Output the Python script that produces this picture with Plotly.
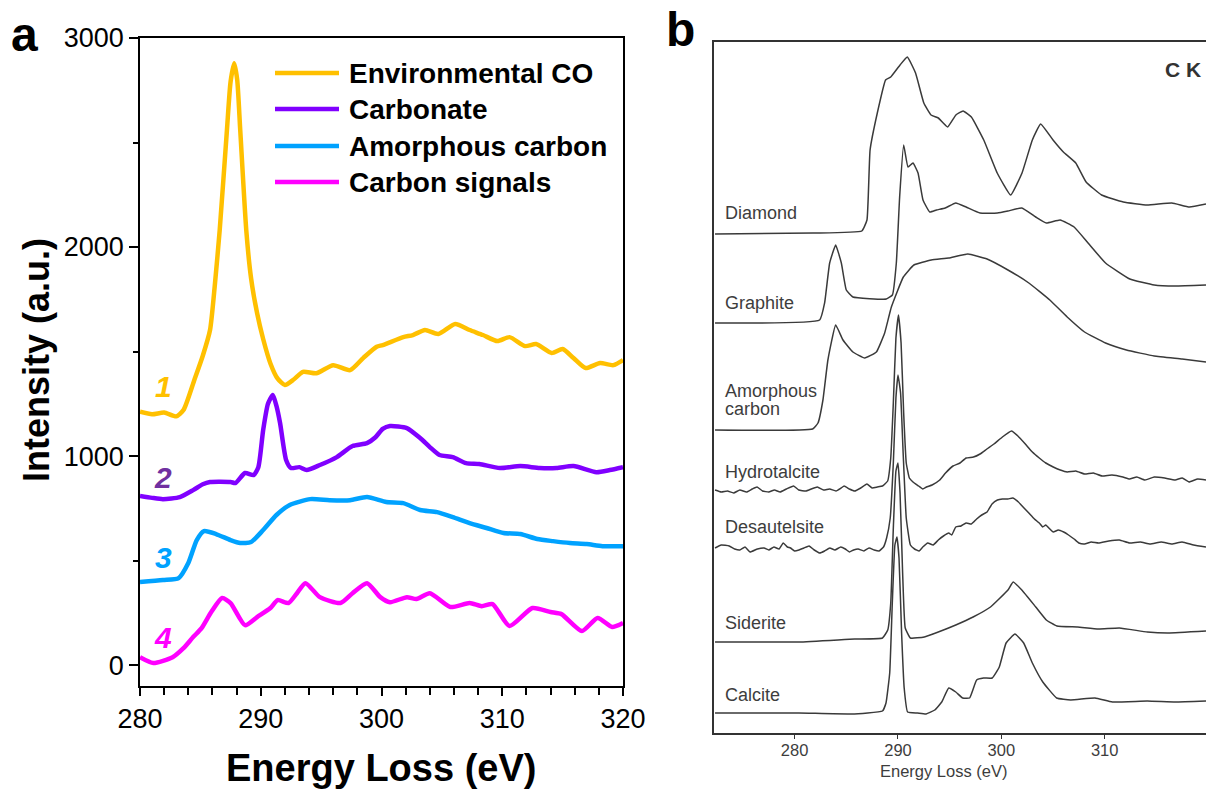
import plotly.graph_objects as go

W, H = 1206, 790

# ---------------- Panel a: C K-edge EELS spectra (offset) ----------------
energy_env = [280.0, 281.0, 282.0, 283.0, 283.6, 284.5, 285.2, 285.8, 286.2, 286.6, 287.2, 287.5,
              287.8, 288.05, 288.3, 288.8, 289.2, 289.7, 290.2, 290.8, 291.4, 292.0, 292.7, 293.5,
              294.6, 296.0, 297.4, 298.5, 299.6, 300.1, 301.8, 302.6, 303.6, 304.7, 306.1, 307.3,
              308.4, 309.6, 310.6, 311.9, 312.8, 314.1, 315.0, 315.9, 316.9, 318.1, 319.2, 320.0]
intensity_env = [1212, 1200, 1208, 1190, 1220, 1364, 1480, 1603, 1820, 2081, 2560, 2790,
                 2879, 2800, 2560, 2081, 1850, 1683, 1560, 1443, 1370, 1340, 1365, 1403,
                 1396, 1435, 1411, 1470, 1523, 1531, 1569, 1579, 1603, 1584, 1632, 1603,
                 1579, 1550, 1569, 1526, 1536, 1493, 1512, 1469, 1421, 1445, 1435, 1459]

energy_carb = [280.0, 281.0, 281.9, 283.3, 284.4, 285.2, 285.8, 287.5, 287.9, 288.7, 289.4, 289.8,
               290.2, 290.6, 291.0, 291.3, 291.6, 292.1, 292.5, 293.2, 293.8, 294.9, 296.3, 297.6,
               298.8, 299.5, 300.1, 300.7, 302.1, 303.2, 304.0, 304.8, 305.9, 307.0, 308.1, 309.8,
               311.5, 313.1, 314.5, 315.9, 317.8, 318.9, 320.0]
intensity_carb = [809, 800, 794, 804, 837, 865, 876, 876, 871, 919, 909, 947,
                  1124, 1250, 1292, 1240, 1158, 981, 943, 947, 933, 957, 995, 1048,
                  1062, 1090, 1130, 1144, 1134, 1086, 1043, 1005, 995, 966, 962, 943,
                  952, 943, 943, 952, 923, 933, 947]

energy_amc = [280.0, 281.9, 283.2, 284.0, 284.7, 285.3, 286.3, 287.5, 288.3, 289.2, 290.2, 291.3,
              292.4, 294.1, 295.7, 297.4, 298.8, 300.4, 301.8, 303.2, 304.6, 305.9, 307.3, 308.7,
              310.1, 311.5, 312.9, 314.2, 315.6, 317.0, 318.3, 320.0]
intensity_amc = [397, 407, 416, 488, 598, 641, 627, 598, 584, 589, 646, 718,
                 766, 794, 789, 789, 804, 780, 775, 742, 732, 708, 679, 656,
                 632, 627, 603, 593, 584, 579, 569, 569]

energy_sig = [280.0, 281.1, 282.7, 283.6, 284.4, 285.1, 285.9, 286.8, 287.5, 288.7, 289.7, 290.8,
              291.4, 292.3, 293.0, 293.7, 294.9, 296.6, 297.6, 298.8, 299.9, 300.7, 302.1, 302.9,
              304.0, 305.7, 307.3, 308.3, 309.2, 310.6, 312.5, 314.0, 314.9, 316.6, 317.9, 319.1,
              320.0]
intensity_sig = [38, 10, 38, 81, 134, 177, 254, 321, 297, 191, 230, 273,
                 311, 297, 344, 392, 325, 297, 344, 392, 325, 301, 325, 316,
                 344, 278, 297, 282, 292, 187, 273, 254, 244, 163, 225, 182,
                 201]

series_a = [
    ("Environmental CO", energy_env, intensity_env, "#FFC000"),
    ("Carbonate", energy_carb, intensity_carb, "#8000FF"),
    ("Amorphous carbon", energy_amc, intensity_amc, "#00A2FF"),
    ("Carbon signals", energy_sig, intensity_sig, "#FF00FF"),
]
curve_numbers = [("1", "#FFC000"), ("2", "#7030A0"), ("3", "#00A2FF"), ("4", "#FF00FF")]

# ---------------- Panel b: reference C K-edge spectra ----------------
e_diamond = [272.3, 281.8, 286.5, 287.0, 287.3, 288.0, 288.8, 289.3, 290.2, 290.9, 291.7, 292.5,
             293.2, 293.9, 294.8, 295.6, 296.3, 297.1, 298.3, 299.6, 300.9, 302.0, 303.0, 303.8,
             305.0, 306.0, 307.2, 308.2, 309.7, 311.8, 314.1, 316.5, 318.2, 319.8]
i_diamond = [499, 500, 502, 513, 583, 620, 653, 656, 668, 676, 660, 630,
             618, 615, 606, 618, 622, 616, 593, 560, 538, 560, 593, 609,
             593, 581, 570, 551, 538, 531, 528, 530, 526, 529]

e_graphite = [272.3, 282.42, 282.9, 283.39, 283.97, 284.52, 285.0, 285.64, 288.87, 289.46, 289.84,
              290.16, 290.55, 290.97, 291.45, 291.94, 292.42, 293.07, 293.72, 294.57, 295.59,
              296.59, 297.94, 299.62, 300.64, 301.98, 303.33, 304.35, 305.69, 307.04, 308.39,
              310.08, 312.43, 314.79, 316.82, 319.8]
i_graphite = [410, 413, 430, 470, 488, 470, 443, 436, 434, 438, 470,
              536, 588, 566, 570, 560, 533, 521, 523, 525, 530,
              526, 520, 520, 522, 525, 516, 510, 513, 506, 490,
              470, 454, 448, 447, 448]

e_amorph = [272.3, 281.74, 282.26, 282.74, 283.22, 283.97, 284.68, 285.64, 286.78, 287.91, 288.71,
            289.36, 290.52, 291.54, 293.22, 294.91, 296.76, 298.62, 300.64, 302.66, 304.69,
            306.37, 308.05, 310.08, 312.10, 314.79, 317.49, 319.8]
i_amorph = [303, 304, 310, 333, 373, 408, 393, 381, 375, 381, 400,
            426, 456, 468, 473, 475, 479, 474, 463, 450, 433,
            416, 401, 390, 383, 377, 374, 371]

e_hydro = [272.3, 272.9, 273.5, 274.1, 274.7, 275.35, 275.9, 276.37, 276.9, 277.5, 278.05, 278.6,
           279.2, 279.9, 280.4, 281.08, 281.6, 282.2, 282.8, 283.4, 284.0, 284.5, 284.79, 285.3,
           285.81, 286.4, 286.99, 287.5, 288.0, 288.5, 289.0, 289.3, 289.55, 289.8, 290.05, 290.3,
           290.55, 290.8, 291.1, 291.45, 292.0, 292.4, 292.75, 293.3, 294.04, 294.6, 295.32, 296.0,
           296.59, 297.3, 297.94, 298.6, 299.29, 300.1, 300.98, 301.6, 302.32, 303.0, 303.67, 304.3,
           305.02, 305.7, 306.37, 307.2, 308.05, 308.9, 309.74, 310.7, 311.76, 312.4, 313.11, 313.9,
           314.79, 315.8, 316.82, 317.5, 318.16, 319.0, 319.8]
i_hydro = [243, 241, 242, 240, 243, 241, 244, 246, 242, 241, 243, 241,
           244, 247, 243, 242, 244, 246, 243, 244, 242, 245, 247, 244,
           242, 245, 249, 245, 246, 247, 252, 275, 330, 395, 418, 390,
           320, 270, 255, 251, 247, 244, 246, 248, 253, 260, 267, 270,
           275, 276, 279, 284, 289, 296, 302, 297, 289, 281, 275, 270,
           266, 263, 261, 262, 259, 260, 257, 258, 256, 254, 256, 253,
           256, 255, 253, 255, 251, 254, 253]

e_desaut = [272.3, 272.9, 273.67, 274.2, 274.7, 275.2, 275.69, 276.4, 277.05, 277.5, 278.0, 278.5,
            278.9, 279.3, 279.6, 280.0, 280.42, 280.9, 281.4, 281.9, 282.44, 282.9, 283.4, 283.9,
            284.46, 284.9, 285.3, 285.7, 286.15, 286.7, 287.2, 287.7, 288.17, 288.6, 288.9, 289.25,
            289.55, 289.8, 290.0, 290.25, 290.5, 290.8, 291.2, 291.6, 292.04, 292.4, 292.88, 293.4,
            293.9, 294.4, 294.91, 295.2, 295.59, 296.1, 296.59, 297.1, 297.61, 298.1, 298.62, 299.1,
            299.62, 300.1, 300.64, 301.1, 301.65, 302.1, 302.66, 303.2, 303.67, 304.0, 304.3, 304.7,
            305.02, 305.5, 306.03, 306.5, 307.04, 307.5, 308.05, 308.7, 309.4, 310.4, 311.42, 312.4,
            313.45, 314.4, 315.47, 316.5, 317.49, 318.6, 319.8]
i_desaut = [185, 188, 187, 184, 183, 186, 181, 184, 185, 183, 186, 184,
            190, 186, 185, 182, 183, 185, 187, 183, 180, 182, 185, 183,
            186, 184, 181, 183, 184, 182, 185, 183, 182, 186, 195, 215,
            270, 335, 358, 340, 280, 215, 188, 184, 182, 186, 190, 188,
            193, 197, 200, 198, 206, 207, 210, 209, 214, 218, 221, 229,
            233, 234, 234, 235, 231, 226, 220, 214, 210, 206, 208, 204,
            201, 203, 201, 198, 194, 190, 189, 191, 190, 192, 193, 190,
            191, 189, 191, 189, 191, 188, 186]

e_siderite = [272.3, 280.42, 285.81, 288.5, 289.01, 289.3, 289.55, 289.8, 290.0, 290.2, 290.45,
              290.7, 291.2, 292.55, 293.9, 295.59, 297.27, 298.95, 300.64, 301.14, 301.98, 303.33,
              304.35, 305.37, 307.38, 309.4, 311.42, 314.12, 316.15, 319.8]
i_siderite = [91, 91, 94, 95, 103, 130, 205, 262, 270, 240, 160,
              105, 95, 96, 101, 108, 116, 126, 143, 151, 143, 126,
              113, 107, 106, 104, 105, 101, 100, 102]

e_calcite = [272.3, 280.42, 285.47, 288.5, 288.84, 289.2, 289.45, 289.7, 289.9, 290.1, 290.35, 290.6,
             290.93, 291.88, 292.72, 293.56, 294.23, 294.91, 295.59, 296.26, 296.93, 297.61, 298.28,
             299.12, 299.8, 300.46, 301.32, 302.16, 303.0, 304.01, 305.35, 306.71, 309.06, 310.75,
             314.12, 316.82, 319.8]
i_calcite = [20, 20, 19, 22, 30, 60, 130, 188, 196, 175, 100, 45,
             21, 20, 19, 23, 31, 45, 41, 35, 35, 53, 55,
             55, 66, 90, 99, 90, 70, 51, 35, 33, 35, 31,
             32, 31, 32]

series_b = [
    (e_diamond, i_diamond), (e_graphite, i_graphite), (e_amorph, i_amorph),
    (e_hydro, i_hydro), (e_desaut, i_desaut), (e_siderite, i_siderite), (e_calcite, i_calcite),
]
labels_b = [("Diamond", 213), ("Graphite", 303), ("Amorphous", 391), ("carbon", 409),
            ("Hydrotalcite", 472), ("Desautelsite", 527), ("Siderite", 623), ("Calcite", 695)]

FONT = "Liberation Sans, Arial, sans-serif"


def px(x):
    return x / W


def py(y):
    return 1 - y / H


fig = go.Figure()

for name, xs, ys, color in series_a:
    fig.add_trace(go.Scatter(x=xs, y=ys, mode="lines", name=name, showlegend=False,
                             line=dict(color=color, width=4.5, shape="spline", smoothing=0.6),
                             xaxis="x", yaxis="y"))

for xs, ys in series_b:
    fig.add_trace(go.Scatter(x=xs, y=ys, mode="lines", showlegend=False,
                             line=dict(color="#3a3a3a", width=1.5, shape="spline", smoothing=0.35),
                             xaxis="x2", yaxis="y2"))

annotations = []
shapes = []

# panel letters
annotations.append(dict(text="<b>a</b>", x=px(9), y=py(34), xref="paper", yref="paper",
                        xanchor="left", yanchor="middle", showarrow=False,
                        font=dict(family=FONT, size=48, color="black")))
annotations.append(dict(text="<b>b</b>", x=px(664), y=py(30), xref="paper", yref="paper",
                        xanchor="left", yanchor="middle", showarrow=False,
                        font=dict(family=FONT, size=48, color="black")))

# axis titles for panel a
annotations.append(dict(text="<b>Energy Loss (eV)</b>", x=px(381.5), y=py(768), xref="paper",
                        yref="paper", xanchor="center", yanchor="middle", showarrow=False,
                        font=dict(family=FONT, size=38, color="black")))
annotations.append(dict(text="<b>Intensity (a.u.)</b>", x=px(36), y=py(360), xref="paper",
                        yref="paper", xanchor="center", yanchor="middle", showarrow=False,
                        textangle=-90, font=dict(family=FONT, size=36, color="black")))

# legend for panel a
legend_rows = [73, 109, 146, 182]
for (name, _, _, color), yrow in zip(series_a, legend_rows):
    shapes.append(dict(type="line", xref="paper", yref="paper", x0=px(275), x1=px(339),
                       y0=py(yrow), y1=py(yrow), line=dict(color=color, width=4.5)))
    annotations.append(dict(text="<b>%s</b>" % name, x=px(347), y=py(yrow), xref="paper",
                            yref="paper", xanchor="left", yanchor="middle", showarrow=False,
                            font=dict(family=FONT, size=28, color="black")))

# curve numbers
for (num, color), ylab in zip(curve_numbers, [387, 477, 557, 637]):
    annotations.append(dict(text="<b><i>%s</i></b>" % num, x=px(163), y=py(ylab), xref="paper",
                            yref="paper", xanchor="center", yanchor="middle", showarrow=False,
                            font=dict(family=FONT, size=30, color=color)))

# panel b spectrum names
for text, ylab in labels_b:
    annotations.append(dict(text=text, x=px(723), y=py(ylab), xref="paper", yref="paper",
                            xanchor="left", yanchor="middle", showarrow=False,
                            font=dict(family=FONT, size=18, color="#3d3d3d")))
annotations.append(dict(text="<b>C K</b>", x=px(1203), y=py(69), xref="paper", yref="paper",
                        xanchor="right", yanchor="middle", showarrow=False,
                        font=dict(family=FONT, size=21, color="#333333")))
annotations.append(dict(text="Energy Loss (eV)", x=px(943), y=py(771), xref="paper",
                        yref="paper", xanchor="center", yanchor="middle", showarrow=False,
                        font=dict(family=FONT, size=16.5, color="#3d3d3d")))

fig.update_layout(
    width=W, height=H,
    margin=dict(l=0, r=0, t=0, b=0, autoexpand=False),
    paper_bgcolor="white", plot_bgcolor="white",
    showlegend=False,
    xaxis=dict(domain=[px(140), px(623)], range=[280, 320], showline=True, mirror=True,
               linecolor="black", linewidth=1.6, ticks="outside", ticklen=8, tickwidth=1.5,
               tickcolor="black", tickvals=[280, 290, 300, 310, 320],
               tickfont=dict(family=FONT, size=27, color="black"),
               minor=dict(tick0=280, dtick=2, ticks="outside", ticklen=7, tickwidth=1.5,
                          tickcolor="black", showgrid=False),
               showgrid=False, zeroline=False, anchor="y", automargin=False),
    yaxis=dict(domain=[py(686), py(38)], range=[-100, 3000], showline=True, mirror=True,
               linecolor="black", linewidth=1.6, ticks="outside", ticklen=9, tickwidth=1.5,
               tickcolor="black", tickvals=[0, 1000, 2000, 3000],
               tickfont=dict(family=FONT, size=27, color="black"),
               minor=dict(tick0=0, dtick=500, ticks="outside", ticklen=5, tickwidth=1.5,
                          tickcolor="black", showgrid=False),
               showgrid=False, zeroline=False, anchor="x", automargin=False),
    xaxis2=dict(domain=[px(714), 1.0], range=[272.2, 319.8], showline=True, mirror=True,
                linecolor="#333333", linewidth=2, ticks="outside", ticklen=4, tickwidth=1.2,
                tickcolor="#333333", tickvals=[280, 290, 300, 310], ticklabelstandoff=-3,
                tickfont=dict(family=FONT, size=16.5, color="#3d3d3d"),
                showgrid=False, zeroline=False, anchor="y2", automargin=False),
    yaxis2=dict(domain=[py(733), py(42)], range=[0, 691], showline=True, mirror=False,
                linecolor="#333333", linewidth=2, ticks="", showticklabels=False,
                showgrid=False, zeroline=False, anchor="x2", automargin=False),
    annotations=annotations,
    shapes=shapes,
)

fig.write_html("out.html")
